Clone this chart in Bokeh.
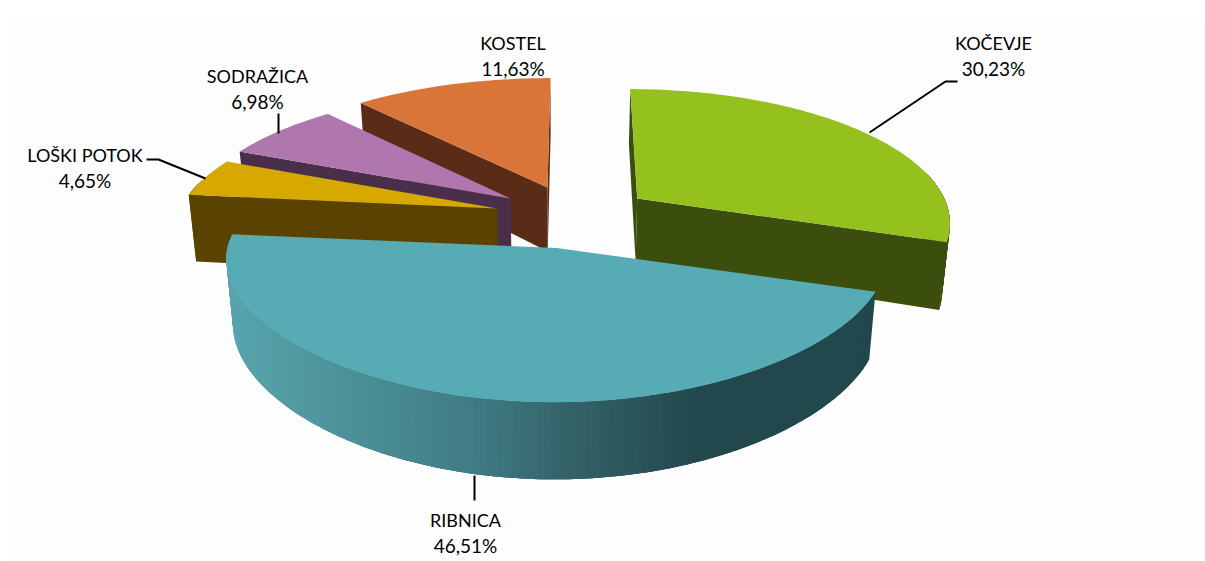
import math
from bokeh.plotting import figure
from bokeh.models import Range1d
from bokeh.core.properties import value
from bokeh.embed import file_html
from bokeh.resources import INLINE

# ---- data ----
names = ["KOČEVJE", "RIBNICA", "LOŠKI POTOK", "SODRAŽICA", "KOSTEL"]
shares = [30.23, 46.51, 4.65, 6.98, 11.63]

# ---- look: colours ----
top_colors = ["#95C11F", "#57ABB4", "#D6A800", "#B076AE", "#DA753A"]
wall_colors = ["#3C4E0E", "#22474D", "#5A4300", "#4A2F4B", "#5A2C17"]
ribnica_ramp = [(225, (88, 165, 173)), (470, (64, 124, 132)), (553, (54, 102, 109)), (700, (34, 71, 77)), (900, (34, 71, 77))]

# ---- look: projected layout of each slice (exploded 3D pie) ----
apex_x = [636.7, 556.0, 496.7, 510.0, 547.0]
apex_y = [198.0, 247.5, 208.0, 198.0, 187.0]
radius_x = [307, 329, 317, 317, 319]
persp_x = [0.17, 0.08, 0.17, 0.17, 0.17]
depth = [64, 64, 68, 64, 64]
show_start_face = [True, False, True, True, True]
show_end_face = [True, False, False, False, True]
RADIUS_Y, PERSP_Y, VANISH_X, SHRINK = 128, 0.17, 560, 0.98
FAR_X, FAR_PULL = 574, 0.11
RIM_HIDDEN_ABOVE = 0.2
draw_order = [4, 3, 2, 0, 1]

label_x = [993, 465, 84.5, 257, 512.5]
label_y = [42, 519, 154, 75, 42]
leaders = {0: ([869, 945, 957], [132, 81, 81]), 1: ([474, 474], [475, 500]),
           2: ([146, 158, 205], [159, 159, 178]), 3: ([278, 278], [113, 133])}

W, H = 1205, 561
p = figure(width=W, height=H, x_range=Range1d(0, W), y_range=Range1d(H, 0),
           x_axis_type=None, y_axis_type=None, toolbar_location=None,
           output_backend="svg", min_border=0, outline_line_color=None,
           background_fill_color="#FFFFFF", border_fill_color="#FFFFFF")
p.grid.visible = False
p.quad(left=[8], right=[W], top=[22], bottom=[H], fill_color="#FDFDFD", line_color=None)

# slice angles come from the values, clockwise from 12 o'clock
total = sum(shares)
starts, acc = [], 0.0
for v in shares:
    starts.append(acc / total * 2 * math.pi)
    acc += v
ends = starts[1:] + [2 * math.pi]


def top_pt(i, th):
    X, Y = math.sin(th), math.cos(th)
    return (apex_x[i] + radius_x[i] * X / (1 + persp_x[i] * Y) + (FAR_X - apex_x[i]) * FAR_PULL * Y,
            apex_y[i] - RADIUS_Y * Y / (1 + PERSP_Y * Y))


def floor_pt(i, th=None):
    if th is None:
        x, y, s = apex_x[i], apex_y[i], 1.0
    else:
        x, y = top_pt(i, th)
        s = 1 / (1 + PERSP_Y * math.cos(th))
    return VANISH_X + (x - VANISH_X) * SHRINK, y + depth[i] * s


def ramp(x):
    for (x0, c0), (x1, c1) in zip(ribnica_ramp, ribnica_ramp[1:]):
        if x <= x1:
            t = max(0.0, (x - x0) / (x1 - x0))
            return "#%02X%02X%02X" % tuple(round(a + (b - a) * t) for a, b in zip(c0, c1))
    return "#22474D"


def poly(pts, color):
    p.patch([q[0] for q in pts], [q[1] for q in pts], fill_color=color, line_color=None)


for i in draw_order:
    a, b = starts[i], ends[i]
    n = max(8, int((b - a) * 60))
    ths = [a + (b - a) * k / n for k in range(n + 1)]
    ap = (apex_x[i], apex_y[i])
    # radial faces
    for th, show in ((a, show_start_face[i]), (b, show_end_face[i])):
        if show:
            poly([ap, top_pt(i, th), floor_pt(i, th), floor_pt(i)], wall_colors[i])
    # rim: each strip overlaps the next so no seams show; the far part lies behind the top
    for k in range(n):
        tm = (ths[k] + ths[k + 1]) / 2
        if math.cos(tm) > RIM_HIDDEN_ABOVE:
            continue
        color = ramp(top_pt(i, tm)[0]) if i == 1 else wall_colors[i]
        arc = [ths[j] for j in range(k, min(k + 3, n) + 1)]
        poly([top_pt(i, t) for t in arc] + [floor_pt(i, t) for t in reversed(arc)], color)
    # top
    poly([ap] + [top_pt(i, t) for t in ths], top_colors[i])

for xs, ys in leaders.values():
    p.line(xs, ys, line_color="#000000", line_width=2)

font = value("Lato")
percent = [f"{v:.2f}%".replace(".", ",") for v in shares]
p.text(label_x, label_y, text=names, text_align="center", text_baseline="middle",
       text_font=font, text_font_size="18px", text_color="#000000")
p.text(label_x, [y + 26 for y in label_y], text=percent, text_align="center", text_baseline="middle",
       text_font=font, text_font_size="19px", text_color="#000000")

open("out.html", "w").write(file_html(p, INLINE))
